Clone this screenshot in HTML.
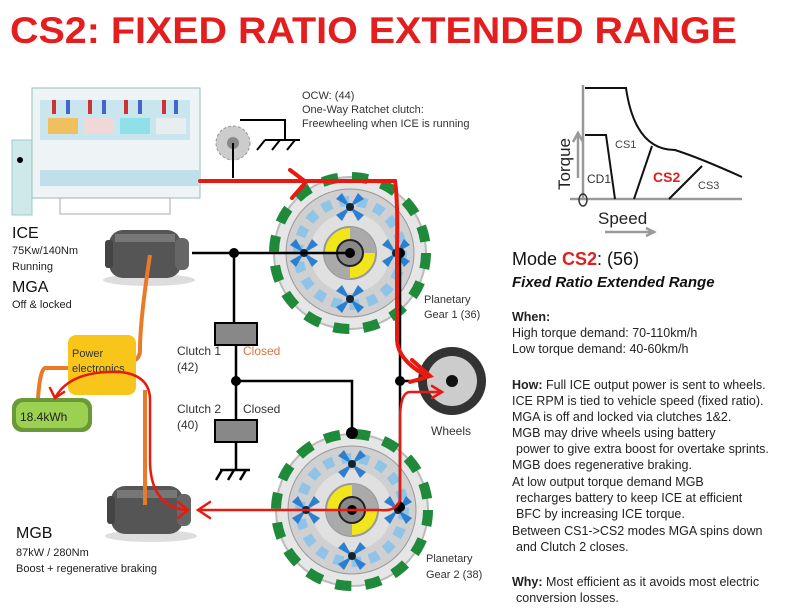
<!DOCTYPE html>
<html><head><meta charset="utf-8"><style>
body{margin:0;background:#fff;}
svg{display:block;font-family:"Liberation Sans",Arial,sans-serif;}
</style></head><body>
<svg width="800" height="614" viewBox="0 0 800 614" xmlns="http://www.w3.org/2000/svg">
<defs>
<g id="gear">
  <circle r="76" fill="#e6e6e6" stroke="#bbb" stroke-width="2"/>
  <circle r="76" fill="none" stroke="#1e8a3a" stroke-width="10" stroke-dasharray="16 14"/>
  <circle r="64" fill="#d0d0d0" stroke="#999" stroke-width="1"/>
  <circle r="52" fill="none" stroke="#8fc4e8" stroke-width="10" stroke-dasharray="10 8"/>
  <circle r="40" fill="#e0e0e0"/>
  <circle r="26" fill="#f2e61a" stroke="#999" stroke-width="2"/>
  <path d="M0 -26 A26 26 0 0 1 26 0 L0 0Z M0 26 A26 26 0 0 1 -26 0 L0 0Z" fill="#aaa"/>
  <circle r="13" fill="#888" stroke="#222" stroke-width="2"/>
  <g fill="#2a7fd0">
    <g transform="translate(0,-46)"><path d="M0 0 L-14 -8 L-8 -14Z M0 0 L14 -8 L8 -14Z M0 0 L-14 8 L-8 14Z M0 0 L14 8 L8 14Z"/><circle r="4" fill="#123"/></g>
    <g transform="translate(0,46)"><path d="M0 0 L-14 -8 L-8 -14Z M0 0 L14 -8 L8 -14Z M0 0 L-14 8 L-8 14Z M0 0 L14 8 L8 14Z"/><circle r="4" fill="#123"/></g>
    <g transform="translate(-46,0)"><path d="M0 0 L-14 -8 L-8 -14Z M0 0 L14 -8 L8 -14Z M0 0 L-14 8 L-8 14Z M0 0 L14 8 L8 14Z"/><circle r="4" fill="#123"/></g>
    <g transform="translate(46,0)"><path d="M0 0 L-14 -8 L-8 -14Z M0 0 L14 -8 L8 -14Z M0 0 L-14 8 L-8 14Z M0 0 L14 8 L8 14Z"/><circle r="4" fill="#123"/></g>
  </g>
</g>
<g id="motor">
  <ellipse cx="44" cy="52" rx="46" ry="6" fill="#ddd"/>
  <rect x="4" y="2" width="72" height="48" rx="14" fill="#555"/>
  <rect x="10" y="6" width="60" height="8" fill="#777"/>
  <rect x="70" y="10" width="14" height="32" rx="6" fill="#666"/>
  <rect x="0" y="12" width="8" height="28" rx="3" fill="#444"/>
</g>
</defs>

<text x="10" y="43" font-size="37" font-weight="bold" fill="#e41e1e" textLength="727" lengthAdjust="spacingAndGlyphs">CS2: FIXED RATIO EXTENDED RANGE</text>

<!-- engine -->
<rect x="12" y="140" width="20" height="75" fill="#cfe8e8" stroke="#9cc" />
<circle cx="20" cy="160" r="3" fill="#000"/>
<rect x="32" y="88" width="168" height="110" fill="#eef4f6" stroke="#9bb" />
<rect x="40" y="100" width="150" height="40" fill="#c9e6ee"/>
<rect x="48" y="118" width="30" height="16" fill="#f0c060"/>
<rect x="84" y="118" width="30" height="16" fill="#f0d8d8"/>
<rect x="120" y="118" width="30" height="16" fill="#8fe0e8"/>
<rect x="156" y="118" width="30" height="16" fill="#e8eef0"/>
<g fill="#c33"><rect x="52" y="100" width="4" height="14"/><rect x="88" y="100" width="4" height="14"/><rect x="124" y="100" width="4" height="14"/><rect x="162" y="100" width="4" height="14"/></g>
<g fill="#46c"><rect x="66" y="100" width="4" height="14"/><rect x="102" y="100" width="4" height="14"/><rect x="138" y="100" width="4" height="14"/><rect x="174" y="100" width="4" height="14"/></g>
<rect x="40" y="170" width="160" height="16" fill="#bfe0ea"/>
<rect x="60" y="198" width="110" height="16" fill="#fff" stroke="#aaa"/>

<!-- ratchet -->
<circle cx="233" cy="143" r="17" fill="#ccc" stroke="#999" stroke-dasharray="3 2"/>
<circle cx="233" cy="143" r="6" fill="#888"/>
<path d="M233 143 V178 M240 120 H285 V140 M265 140 H300 M265 140 l-8 10 M280 140 l-8 10 M295 140 l-8 10" stroke="#000" stroke-width="2" fill="none"/>
<text x="302" y="99" font-size="11" fill="#333">OCW: (44)</text>
<text x="302" y="113" font-size="11" fill="#333">One-Way Ratchet clutch:</text>
<text x="302" y="127" font-size="11" fill="#333">Freewheeling when ICE is running</text>

<!-- gears -->
<use href="#gear" transform="translate(350,253)"/>
<use href="#gear" transform="translate(352,510)"/>
<circle cx="350" cy="253" r="5" fill="#000"/>
<circle cx="352" cy="510" r="5" fill="#000"/>

<!-- black shafts -->
<g stroke="#000" stroke-width="2.5" fill="none">
<path d="M192 253 H350"/>
<path d="M234 253 V323 M236 345 V420 M236 440 V470"/>
<path d="M236 381 H352 V433"/>
<path d="M400 253 V510 M400 381 H452"/>
<path d="M220 470 H250 M222 470 l-6 10 M234 470 l-6 10 M246 470 l-6 10"/>
</g>
<g fill="#000"><circle cx="234" cy="253" r="5"/><circle cx="236" cy="381" r="5"/><circle cx="352" cy="433" r="6"/><circle cx="400" cy="381" r="5"/><circle cx="400" cy="253" r="5"/><circle cx="400" cy="507" r="5"/></g>
<rect x="215" y="323" width="42" height="22" fill="#888" stroke="#000" stroke-width="2"/>
<rect x="215" y="420" width="42" height="22" fill="#888" stroke="#000" stroke-width="2"/>
<text x="177" y="355" font-size="12" fill="#333">Clutch 1</text>
<text x="177" y="371" font-size="12" fill="#333">(42)</text>
<text x="243" y="355" font-size="12" fill="#e07040">Closed</text>
<text x="177" y="413" font-size="12" fill="#333">Clutch 2</text>
<text x="177" y="429" font-size="12" fill="#333">(40)</text>
<text x="243" y="413" font-size="12" fill="#333">Closed</text>

<!-- wheel -->
<circle cx="452" cy="381" r="34" fill="#333"/>
<circle cx="452" cy="381" r="25" fill="#ccc"/>
<circle cx="452" cy="381" r="6" fill="#111"/>
<text x="431" y="435" font-size="12" fill="#333">Wheels</text>

<!-- motors -->
<use href="#motor" transform="translate(105,228)"/>
<use href="#motor" transform="translate(107,484)"/>

<!-- orange cables -->
<g stroke="#e87a2a" stroke-width="4" fill="none">
<path d="M150 255 Q140 320 140 350 Q140 360 130 362"/>
<path d="M68 368 H45 Q40 370 38 398"/>
<path d="M145 390 V505"/>
</g>
<rect x="68" y="335" width="68" height="60" rx="8" fill="#f8c61a"/>
<text x="72" y="357" font-size="11" fill="#333">Power</text>
<text x="72" y="372" font-size="11" fill="#333">electronics</text>
<rect x="12" y="398" width="80" height="34" rx="10" fill="#6a9a38"/>
<rect x="16" y="402" width="72" height="26" rx="8" fill="#9cd050"/>
<text x="20" y="421" font-size="12" fill="#222">18.4kWh</text>

<!-- red flows -->
<g stroke="#e81a10" stroke-width="4" fill="none" stroke-linecap="round">
<path d="M200 181 H395 Q398 200 397 250 V340 Q398 360 425 375"/>
<path d="M290 170 L306 182 L292 198"/>
<path d="M412 360 L430 376 L410 382"/>
</g>
<g stroke="#e81a10" stroke-width="2.5" fill="none" stroke-linecap="round">
<path d="M440 392 H410 Q400 392 400 420 V500 Q396 512 380 510 H200"/>
<path d="M210 502 L198 510 L210 518"/>
<path d="M432 386 L442 392 L432 398"/>
<path d="M185 510 Q150 505 150 460 V400 Q150 375 120 372 Q70 370 55 398"/>
<path d="M50 388 L55 398 L64 392"/>
<path d="M178 502 L188 510 L178 518"/>
</g>

<!-- left labels -->
<text x="12" y="238" font-size="16" fill="#111">ICE</text>
<text x="12" y="254" font-size="11" fill="#222">75Kw/140Nm</text>
<text x="12" y="270" font-size="11" fill="#222">Running</text>
<text x="12" y="292" font-size="16" fill="#111">MGA</text>
<text x="12" y="308" font-size="11" fill="#222">Off &amp; locked</text>
<text x="16" y="538" font-size="16" fill="#111">MGB</text>
<text x="16" y="556" font-size="11" fill="#222">87kW / 280Nm</text>
<text x="16" y="572" font-size="11" fill="#222">Boost + regenerative braking</text>
<text x="424" y="303" font-size="11" fill="#333">Planetary</text>
<text x="424" y="318" font-size="11" fill="#333">Gear 1 (36)</text>
<text x="426" y="562" font-size="11" fill="#333">Planetary</text>
<text x="426" y="578" font-size="11" fill="#333">Gear 2 (38)</text>

<!-- chart -->
<g stroke="#999" stroke-width="2.5" fill="none">
<path d="M583 85 V200 M570 199 H742"/>
<path d="M578 178 V135 M573 142 L578 133 L583 142"/>
<path d="M605 232 H653 M646 228 L654 232 L646 236"/>
</g>
<g stroke="#111" stroke-width="2" fill="none">
<path d="M585 88 H626 Q635 150 675 150 Q700 158 742 177"/>
<path d="M585 135 H606 L615 199"/>
<path d="M634 199 L652 146"/>
<path d="M669 199 L702 166"/>
</g>
<ellipse cx="583" cy="200" rx="4" ry="6" fill="none" stroke="#333" stroke-width="1.5"/>
<text x="615" y="148" font-size="11" fill="#444">CS1</text>
<text x="587" y="183" font-size="12" fill="#333">CD1</text>
<text x="653" y="182" font-size="14" font-weight="bold" fill="#e02020">CS2</text>
<text x="698" y="189" font-size="11" fill="#444">CS3</text>
<text x="570" y="190" font-size="17" fill="#222" transform="rotate(-90 570 190)">Torque</text>
<text x="598" y="224" font-size="17" fill="#222">Speed</text>
<text x="512" y="265" font-size="18" fill="#111">Mode <tspan fill="#e02020" font-weight="bold">CS2</tspan>: (56)</text>
<text x="512" y="287" font-size="15" font-weight="bold" font-style="italic" fill="#111">Fixed Ratio Extended Range</text>

<g font-size="12.5" fill="#222">
<text x="512" y="321" font-weight="bold">When:</text>
<text x="512" y="337">High torque demand: 70-110km/h</text>
<text x="512" y="353">Low torque demand: 40-60km/h</text>
<text x="512" y="389"><tspan font-weight="bold">How:</tspan> Full ICE output power is sent to wheels.</text>
<text x="512" y="405">ICE RPM is tied to vehicle speed (fixed ratio).</text>
<text x="512" y="421">MGA is off and locked via clutches 1&amp;2.</text>
<text x="512" y="437">MGB may drive wheels using battery</text>
<text x="516" y="453">power to give extra boost for overtake sprints.</text>
<text x="512" y="469">MGB does regenerative braking.</text>
<text x="512" y="486">At low output torque demand MGB</text>
<text x="516" y="502">recharges battery to keep ICE at efficient</text>
<text x="516" y="518">BFC by increasing ICE torque.</text>
<text x="512" y="535">Between CS1-&gt;CS2 modes MGA spins down</text>
<text x="516" y="551">and Clutch 2 closes.</text>
<text x="512" y="586"><tspan font-weight="bold">Why:</tspan> Most efficient as it avoids most electric</text>
<text x="516" y="602">conversion losses.</text>
</g>
</svg>
</body></html>
